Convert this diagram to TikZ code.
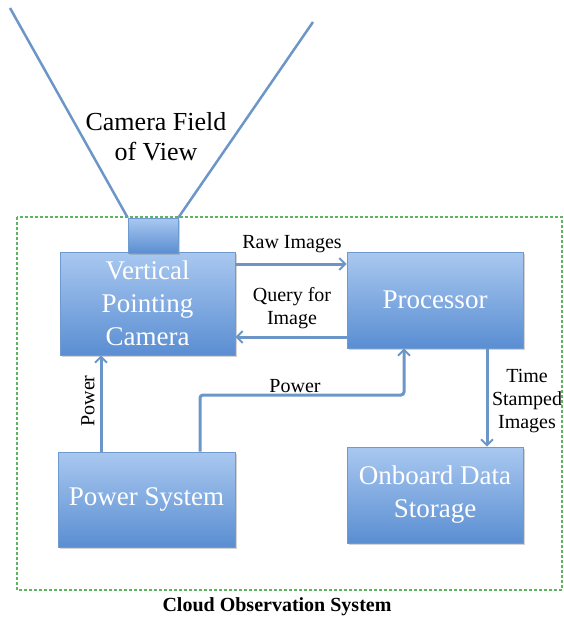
\documentclass[tikz,border=0pt]{standalone}
\usepackage{fontspec}
\setmainfont{Liberation Serif}
\usetikzlibrary{arrows.meta,shadows}
\definecolor{boxtop}{HTML}{A9C8F0}
\definecolor{boxbot}{HTML}{5A8ED2}
\definecolor{boxline}{HTML}{6E9AD0}
\definecolor{linkc}{HTML}{6C96C8}
\definecolor{dashc}{HTML}{5DB55D}
\tikzset{
  blockbox/.style={draw=boxline, line width=0.6pt, top color=boxtop, bottom color=boxbot,
    text=white, font=\fontsize{27}{33}\selectfont, align=center, inner sep=0pt,
    drop shadow={shadow xshift=1.5pt, shadow yshift=-2pt, opacity=0.35}},
  link/.style={draw=linkc, line width=3pt, -{Straight Barb[length=6pt,width=12pt,line width=2pt]}},
  plainlink/.style={draw=linkc, line width=3pt},
  lbl/.style={font=\fontsize{20}{23}\selectfont, align=center, inner sep=0pt, text=black},
}
\begin{document}
\begin{tikzpicture}[x=1pt,y=-1pt]
\useasboundingbox (0,0) rectangle (564,623);
% system boundary
\draw[dashc, dashed, line width=1.2pt, dash pattern=on 3pt off 2pt] (17,217) rectangle (562,590);
\node[font=\bfseries\fontsize{20}{24}\selectfont, inner sep=0pt] (cap) at (277,607) {Cloud Observation System};
% blocks
\node[blockbox, minimum width=175pt, minimum height=103pt] (cam) at (147.5,303.5) {Vertical\\Pointing\\Camera};
\node[blockbox, minimum width=50pt, minimum height=35pt, drop shadow={opacity=0}] (lens) at (153,235.5) {};
\node[blockbox, minimum width=176pt, minimum height=96pt] (proc) at (435,300) {Processor};
\node[blockbox, minimum width=177pt, minimum height=95pt] (pow) at (146.5,499.5) {Power System};
\node[blockbox, minimum width=176pt, minimum height=96pt] (store) at (435,495) {Onboard Data\\Storage};
% field of view
\coordinate (fovL) at (10,8);
\coordinate (fovR) at (313,22);
\draw[plainlink, line width=2.5pt] (fovL) -- (lens.north west);
\draw[plainlink, line width=2.5pt] (fovR) -- (lens.north east);
\node[font=\fontsize{26}{30}\selectfont, align=center, inner sep=0pt] (fovtxt) at (156,137) {Camera Field\\of View};
% connectors
\draw[link] (cam.east |- 0,264) -- (proc.west |- 0,264);
\node[lbl] (rawl) at (292,244) {Raw Images};
\draw[link] (proc.west |- 0,337) -- (cam.east |- 0,337);
\node[lbl] (qryl) at (292,308) {Query for\\Image};
\draw[link] (pow.north -| 101,0) -- (cam.south -| 101,0);
\node[lbl, rotate=90] (pwl1) at (88,401) {Power};
\draw[link, rounded corners=3pt] (pow.north -| 200,0) |- (404,395) -- (proc.south -| 404,0);
\node[lbl] (pwl2) at (295,386) {Power};
\draw[link] (proc.south -| 487,0) -- (store.north -| 487,0);
\node[lbl] (tsl) at (527,401) {Time\\Stamped\\Images};
\end{tikzpicture}
\end{document}
